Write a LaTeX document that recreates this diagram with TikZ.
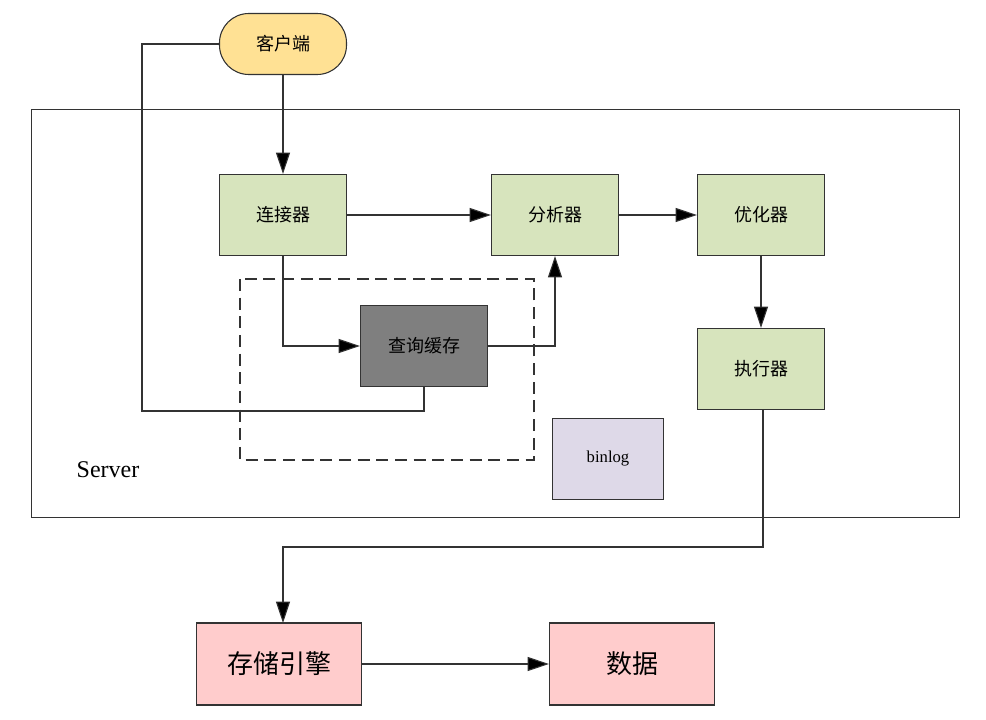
\documentclass[tikz,border=0pt]{standalone}
\usepackage{fontspec}
\setmainfont{Liberation Serif}
\newfontfamily\cjk{Noto Sans CJK SC}
\usepackage{tikz}
\usetikzlibrary{arrows.meta}
\definecolor{clientfill}{HTML}{FFE194}
\definecolor{stepfill}{HTML}{D7E4BD}
\definecolor{cachefill}{HTML}{7F7F7F}
\definecolor{logfill}{HTML}{DED9E8}
\definecolor{enginefill}{HTML}{FFCCCC}
\definecolor{edge}{HTML}{333333}
\tikzset{
  blk/.style = {draw=edge, line width=0.8pt, align=center, inner sep=0pt,
    font=\cjk\fontsize{13.5}{16}\selectfont},
  stage/.style = {blk, fill=stepfill, minimum width=95.25pt, minimum height=60.75pt},
  cache/.style = {blk, fill=cachefill, minimum width=95.25pt, minimum height=60.75pt},
  client/.style = {blk, fill=clientfill, rounded corners=22pt,
    minimum width=95.25pt, minimum height=45.75pt},
  logbox/.style = {blk, fill=logfill, minimum width=83.25pt, minimum height=60.75pt,
    font=\fontsize{12.5}{15}\selectfont},
  store/.style = {blk, fill=enginefill, minimum width=123.75pt, minimum height=61.5pt,
    font=\cjk\fontsize{19.5}{23}\selectfont},
  wire/.style = {draw=edge, line width=0.8pt},
  flow/.style = {wire, -{Triangle[length=16pt,width=10.5pt,fill=black]}}
}
\begin{document}
\begin{tikzpicture}[x=0.75pt, y=-0.75pt]
\useasboundingbox (0,0) rectangle (986,720);

% server frame and cache area
\draw[wire, line width=0.6pt] (31,109) rectangle (959,517);
\draw[wire, dash pattern=on 9pt off 5pt, line width=1pt] (240,279) rectangle (534,460);
\node (srv) at (108,470) {\fontsize{18}{21}\selectfont Server};

\node [client] (cli) at (283,44) {客户端};
\node [stage] (conn) at (283,215) {连接器};
\node [stage] (ana) at (555,215) {分析器};
\node [stage] (opt) at (761,215) {优化器};
\node [stage] (exe) at (761,369) {执行器};
\node [cache] (qc) at (424,346) {查询缓存};
\node [logbox] (blog) at (608,459) {binlog};
\node [store] (eng) at (279,664) {存储引擎};
\node [store] (dat) at (632,664) {数据};

\coordinate (back) at (142,411);
\coordinate (down) at (763,547);
\coordinate (engin) at (283,623);

\draw[flow] (cli) -- (conn);
\draw[wire] (cli.west) -| (back) -| (qc.south);
\draw[flow] (conn) -- (ana);
\draw[flow] (conn.south) |- (qc.west);
\draw[flow] (qc.east) -| (ana.south);
\draw[flow] (ana) -- (opt);
\draw[flow] (opt) -- (exe);
\draw[flow] (exe.south -| down) -- (down) -| (engin);
\draw[flow] (eng) -- (dat);
\end{tikzpicture}
\end{document}
